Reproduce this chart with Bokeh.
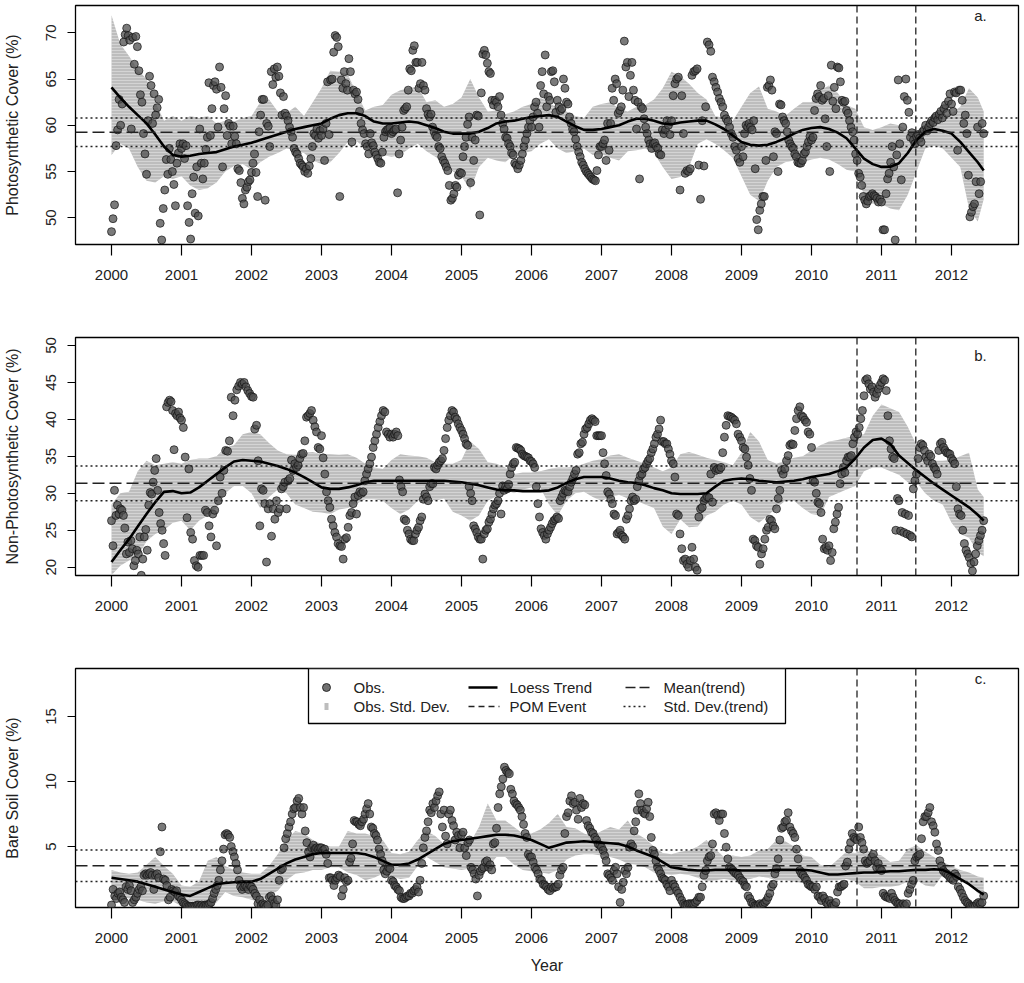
from bokeh.plotting import figure
from bokeh.layouts import column
from bokeh.models import Range1d, FixedTicker, Span
from bokeh.core.properties import value
from bokeh.embed import file_html
from bokeh.resources import INLINE

FONT = "Liberation Sans"
YEARS = list(range(2000, 2013))
LAST_DATE = 2012.46
POM_EVENTS = [2010.65, 2011.49]
BAND_T = [2000 + i / 8 for i in range(100)] + [LAST_DATE]

# ---------------- panel a : photosynthetic cover ----------------
PV_OBS = [
    [48.5, 49.9, 51.4, 57.8, 59.5, 62.8, 60.0, 62.3, 69.0, 69.8, 70.5, 69.7, 69.2, 59.6, 69.5, 66.6, 69.6, 68.5, 65.9, 63.3, 62.5, 59.1, 56.9, 54.7, 60.5, 65.3, 64.3, 60.2, 63.4, 61.1, 61.9, 62.8, 49.4, 47.6, 51.0, 53.0, 56.3, 54.7, 57.5, 56.3, 55.0, 53.6, 51.3, 55.9, 57.0, 58.0],
    [57.5, 58.0, 56.4, 57.8, 51.3, 49.5, 47.7, 52.6, 54.4, 50.5, 55.5, 50.2, 59.6, 55.9, 54.2, 55.9, 57.4, 58.7, 64.6, 58.9, 61.8, 64.3, 64.7, 63.9, 59.8, 66.3, 64.1, 55.5, 61.8, 63.2, 58.9, 60.2, 59.9, 58.0, 59.9, 58.8, 58.0, 55.3, 55.1, 53.8, 52.1, 51.5, 53.0, 53.3, 53.9, 54.1],
    [54.9, 55.9, 56.9, 54.9, 52.3, 59.3, 61.1, 62.8, 62.8, 51.9, 60.2, 59.9, 57.7, 65.8, 64.4, 66.1, 65.2, 66.3, 65.3, 63.5, 61.1, 63.1, 61.3, 61.0, 60.5, 59.8, 59.3, 58.7, 57.5, 57.1, 56.9, 56.4, 55.9, 55.7, 55.5, 55.0, 55.3, 54.8, 55.6, 56.4, 57.7, 59.1, 58.9, 59.6, 58.6, 59.4],
    [58.9, 59.6, 56.2, 60.2, 64.7, 59.0, 64.9, 65.0, 67.9, 69.7, 69.5, 68.5, 52.3, 64.9, 64.0, 65.8, 64.5, 63.8, 67.2, 65.8, 58.2, 63.8, 63.4, 63.6, 62.8, 61.5, 60.2, 59.5, 59.1, 58.0, 57.7, 56.9, 59.1, 58.1, 57.8, 57.1, 56.8, 56.4, 56.0, 55.9, 57.1, 58.7, 59.3, 59.5, 59.6, 59.7],
    [59.1, 59.3, 59.5, 59.6, 52.7, 56.9, 58.4, 59.8, 61.6, 61.8, 62.0, 63.8, 66.1, 65.9, 68.1, 68.6, 66.8, 66.8, 64.0, 64.5, 66.8, 64.3, 63.8, 61.8, 61.2, 60.9, 61.2, 59.8, 59.3, 58.9, 58.7, 57.7, 57.5, 56.6, 56.2, 55.9, 55.5, 55.1, 53.5, 51.9, 52.1, 52.6, 53.5, 53.3, 54.6, 54.9],
    [54.8, 56.6, 57.7, 58.7, 60.1, 60.9, 53.8, 58.7, 56.2, 58.4, 61.1, 61.0, 50.3, 63.5, 67.7, 68.1, 67.6, 66.7, 65.8, 65.6, 62.7, 62.2, 62.7, 62.5, 62.0, 63.1, 61.1, 60.2, 59.6, 58.7, 58.6, 58.0, 57.7, 57.0, 56.8, 55.9, 55.7, 55.3, 55.7, 56.2, 56.9, 57.7, 58.4, 59.1, 59.8, 60.5],
    [59.8, 60.9, 62.0, 62.5, 61.3, 59.8, 64.3, 65.8, 63.4, 67.6, 62.0, 63.1, 62.7, 65.8, 65.9, 64.7, 61.4, 62.7, 62.0, 61.6, 61.8, 65.0, 64.0, 62.5, 62.3, 60.9, 60.2, 59.6, 59.3, 58.5, 57.7, 57.1, 56.6, 56.0, 55.7, 55.3, 55.0, 54.8, 54.6, 54.4, 54.2, 54.1, 54.0, 55.1, 56.8, 57.7],
    [57.7, 58.0, 58.4, 56.2, 60.2, 57.3, 60.2, 64.0, 62.7, 65.0, 64.5, 61.3, 61.6, 62.0, 63.8, 69.1, 66.3, 66.8, 63.1, 65.4, 66.8, 63.8, 62.7, 59.6, 62.5, 54.2, 62.0, 61.8, 60.7, 59.8, 59.1, 58.4, 58.0, 57.5, 58.0, 58.1, 57.7, 57.5, 56.9, 56.8, 59.5, 59.1, 59.5, 60.5, 60.0, 59.0],
    [60.5, 63.2, 64.5, 65.0, 65.2, 53.0, 63.2, 59.1, 54.8, 55.1, 55.0, 55.3, 65.4, 65.8, 65.9, 66.1, 55.7, 52.0, 60.5, 55.6, 62.0, 69.0, 68.7, 68.0, 65.2, 64.7, 64.1, 63.6, 62.9, 62.5, 62.0, 61.1, 60.7, 60.4, 59.8, 59.1, 58.7, 57.7, 57.3, 56.4, 56.0],
    [57.7, 56.6, 59.1, 60.0, 59.8, 60.2, 59.8, 59.5, 60.5, 55.3, 49.8, 48.7, 50.8, 51.5, 52.3, 52.3, 56.2, 64.1, 64.3, 64.9, 63.8, 56.6, 59.3, 59.1, 55.0, 62.3, 62.2, 60.9, 60.5, 60.2, 59.3, 58.4, 58.0, 57.7, 57.5, 56.9, 56.6, 56.0, 55.9, 55.9, 56.2, 56.9, 57.1, 57.7, 58.2, 58.8],
    [58.4, 58.7, 61.6, 62.9, 63.4, 63.1, 64.3, 62.7, 62.9, 60.7, 57.7, 63.2, 55.0, 66.5, 62.6, 64.1, 61.8, 66.3, 66.2, 64.7, 62.7, 62.5, 62.6, 61.6, 61.3, 60.5, 59.8, 59.3, 58.4, 56.9, 56.2, 54.8, 54.4, 53.5, 52.3, 51.9, 51.5, 51.8, 52.3, 52.4, 52.6, 52.4, 52.3, 52.1, 51.7, 52.0],
    [51.7, 48.7, 48.7, 52.6, 54.2, 54.8, 56.0, 57.7, 55.5, 47.6, 56.8, 64.9, 58.0, 54.1, 59.8, 63.1, 65.0, 62.7, 61.4, 58.7, 59.2, 58.4, 58.0, 58.8, 59.0, 58.6, 58.2, 59.3, 59.5, 60.0, 59.4, 59.8, 60.2, 60.5, 60.3, 60.8, 61.0, 60.6, 61.2, 61.5, 60.8, 61.8, 62.2, 61.3, 62.6, 63.4],
    [62.3, 61.5, 63.6, 63.5, 57.3, 63.8, 63.8, 62.7, 60.2, 61.1, 59.1, 54.6, 50.1, 50.6, 51.2, 51.5, 53.9, 59.8, 52.6, 53.9, 60.2, 59.1],
]
PV_BAND_HI = [
    71.9, 68.8, 67.5, 66.0, 65.0, 62.5, 60.5, 61.0,
    60.5, 61.0, 60.8, 61.0, 60.2, 60.5, 60.4, 60.8,
    61.0, 62.5, 62.8, 61.5, 61.3, 62.0, 61.0, 62.5,
    64.0, 65.9, 65.8, 65.5, 63.5, 61.6, 62.0, 62.2,
    63.3, 63.8, 64.0, 64.2, 62.5, 62.7, 62.0, 62.3,
    63.0, 65.0, 63.0, 61.5, 61.6, 61.2, 61.5, 62.0,
    62.3, 63.0, 62.5, 61.8, 61.5, 61.0, 60.8, 62.0,
    62.3, 62.5, 61.8, 61.5, 62.0, 62.2, 62.8, 64.0,
    65.8, 65.3, 64.5, 63.5, 62.8, 61.0, 60.8, 60.5,
    62.0, 63.5, 64.2, 61.8, 61.5, 61.0, 61.8, 62.5,
    62.5, 63.8, 64.3, 63.5, 62.2, 61.8, 59.8, 59.5,
    59.8, 60.2, 60.0, 59.5, 59.0, 59.6, 60.0, 61.0,
    61.3, 62.0, 64.0, 63.0, 61.5,
]
PV_BAND_LO = [
    56.8, 58.0, 57.5, 55.5, 54.0, 53.8, 54.5, 54.2,
    54.5, 53.5, 53.0, 53.2, 53.8, 55.0, 55.6, 55.8,
    55.2, 56.0, 56.6, 57.0, 57.5, 57.3, 57.0, 56.2,
    55.8, 56.0, 57.0, 58.2, 58.3, 57.5, 56.6, 56.8,
    56.6, 56.8, 57.5, 58.0, 57.2, 56.6, 56.0, 55.0,
    54.5, 53.0, 55.5, 56.5, 56.2, 56.0, 56.8, 57.0,
    57.2, 58.0, 58.5, 57.5, 57.0, 57.2, 57.5, 56.8,
    56.9, 56.5, 56.2, 57.2, 57.3, 57.5, 57.0, 55.5,
    54.2, 54.4, 55.5, 58.0, 58.5, 58.0, 57.3, 56.5,
    54.5, 52.5, 51.8, 54.0, 55.5, 56.0, 56.2, 56.0,
    56.3, 56.5, 56.3, 55.8, 55.2, 55.0, 52.5, 51.5,
    51.5, 51.0, 50.8, 52.5, 55.0, 57.5, 57.8, 57.5,
    56.5, 55.5, 51.0, 49.6, 52.0,
]
PV_TREND = [
    64.1, 63.0, 62.0, 61.1, 60.2, 59.0, 57.7, 56.8,
    56.6, 56.7, 56.9, 57.0, 57.1, 57.4, 57.7, 57.9,
    58.1, 58.4, 58.7, 59.0, 59.3, 59.6, 59.8, 60.0,
    60.2, 60.7, 61.1, 61.3, 61.3, 61.0, 60.4, 60.2,
    60.2, 60.3, 60.4, 60.3, 60.0, 59.7, 59.3, 59.1,
    59.1, 59.1, 59.3, 59.7, 60.2, 60.4, 60.5, 60.7,
    60.9, 61.0, 61.1, 60.9, 60.4, 59.9, 59.5, 59.5,
    59.6, 59.8, 60.0, 60.4, 60.7, 60.7, 60.5, 60.2,
    60.1, 60.3, 60.4, 60.5, 60.5, 60.1, 59.6, 58.9,
    58.2, 57.9, 57.8, 57.9, 58.2, 58.6, 59.1, 59.5,
    59.7, 59.8, 59.6, 59.2, 58.6, 57.5, 56.4, 55.8,
    55.5, 55.5, 55.9, 57.0, 58.4, 59.3, 59.6, 59.4,
    59.1, 58.2, 57.1, 56.0, 55.1,
]
PV_MEAN, PV_SD = 59.25, 1.55

# ---------------- panel b : non-photosynthetic cover ----------------
NPV_OBS = [
    [26.3, 22.9, 30.4, 27.0, 28.4, 27.2, 27.9, 27.7, 27.0, 25.3, 21.8, 23.4, 22.0, 23.6, 22.5, 20.2, 20.9, 22.3, 21.8, 24.1, 18.9, 21.1, 24.1, 25.1, 22.3, 28.4, 30.1, 29.9, 31.5, 33.1, 34.7, 30.4, 27.4, 25.9, 25.0, 23.2, 21.6, 41.7, 42.3, 42.6, 42.4, 41.2, 35.9, 40.8, 40.5, 41.0, 40.2],
    [39.9, 38.9, 34.9, 26.7, 33.3, 24.7, 23.8, 20.9, 20.2, 20.0, 21.6, 21.6, 21.6, 27.7, 27.4, 25.6, 24.1, 27.2, 27.7, 22.9, 29.0, 32.2, 30.0, 33.1, 35.8, 35.7, 37.1, 43.0, 40.5, 42.6, 44.0, 44.5, 45.0, 44.8, 45.0, 44.4, 43.9, 43.5],
    [43.1, 43.0, 38.7, 39.2, 34.4, 25.6, 30.6, 30.4, 28.6, 20.7, 27.9, 28.6, 24.2, 27.9, 26.5, 29.0, 27.4, 27.9, 30.6, 30.9, 31.5, 27.9, 31.7, 32.0, 34.5, 33.1, 34.0, 33.5, 33.8, 34.7, 35.3, 35.4, 37.1, 40.3, 40.5, 40.8, 41.2, 39.9, 39.0, 38.3, 36.2, 36.0],
    [37.8, 34.8, 32.6, 30.2, 29.0, 28.1, 26.5, 25.6, 24.7, 24.1, 23.2, 22.9, 22.8, 21.1, 23.8, 24.0, 25.4, 27.0, 27.4, 28.6, 29.5, 27.2, 29.7, 30.2, 30.0, 30.2, 31.7, 32.6, 33.3, 34.0, 34.9, 36.2, 37.1, 38.0, 38.9, 39.7, 40.5, 41.2, 41.0, 38.3, 38.0, 37.6],
    [38.0, 37.6, 38.0, 38.3, 37.8, 31.8, 30.9, 30.2, 26.5, 26.3, 25.0, 24.5, 23.8, 23.6, 23.6, 24.5, 25.0, 25.4, 26.3, 26.8, 29.2, 29.9, 29.5, 29.0, 30.9, 31.3, 31.3, 33.5, 33.3, 33.8, 34.2, 34.4, 34.7, 35.8, 37.4, 38.9, 39.9, 40.5, 41.2, 41.0, 40.3, 40.0, 39.4, 38.9],
    [38.5, 38.0, 37.4, 36.7, 36.5, 30.9, 30.0, 29.0, 25.6, 25.2, 24.7, 24.1, 23.8, 23.8, 21.1, 24.5, 25.0, 25.2, 26.1, 26.5, 27.2, 27.9, 28.4, 28.6, 29.0, 30.0, 27.2, 31.0, 30.4, 30.9, 30.6, 31.2, 32.6, 33.5, 34.0, 34.2, 36.2, 36.1, 36.0, 35.8, 35.3, 35.1, 35.0, 34.9, 34.8, 34.4],
    [34.3, 34.0, 33.5, 30.9, 28.6, 26.8, 25.2, 24.7, 24.3, 23.8, 24.5, 25.0, 25.4, 25.9, 26.3, 26.5, 26.8, 26.6, 29.0, 29.5, 30.0, 30.4, 30.3, 30.2, 30.9, 31.5, 32.0, 32.6, 33.1, 35.3, 35.5, 36.7, 36.9, 38.0, 38.7, 38.9, 39.4, 39.9, 40.1, 39.9, 39.7, 37.8, 37.8, 37.8],
    [37.8, 35.5, 34.0, 32.4, 30.2, 29.9, 29.2, 28.6, 27.2, 27.0, 24.5, 24.7, 25.0, 24.3, 24.1, 23.8, 26.5, 27.0, 27.9, 29.0, 29.5, 29.0, 29.2, 30.9, 31.7, 32.4, 32.6, 33.3, 33.5, 34.0, 34.4, 34.7, 35.5, 36.0, 36.7, 37.6, 38.0, 38.7, 39.9, 37.0, 37.0, 36.7, 36.7, 36.0, 35.3],
    [34.4, 34.0, 32.2, 27.2, 27.0, 24.5, 22.5, 20.9, 21.1, 20.4, 20.0, 20.9, 22.7, 21.1, 20.0, 19.6, 26.8, 27.9, 28.1, 29.0, 29.3, 29.5, 29.4, 32.6, 28.8, 33.5, 33.1, 33.3, 33.2, 33.5, 35.5, 37.6, 39.2, 40.5, 40.4, 40.3, 40.1, 39.9, 39.4, 38.0, 37.6],
    [37.1, 36.2, 36.0, 34.9, 33.8, 32.0, 30.4, 23.8, 23.6, 22.9, 22.7, 20.4, 21.8, 22.5, 23.8, 25.0, 25.4, 26.5, 26.3, 25.6, 25.2, 27.9, 29.3, 30.4, 33.1, 32.6, 33.3, 34.4, 35.1, 36.5, 36.7, 36.6, 38.5, 40.1, 41.2, 41.7, 40.5, 40.3, 39.9, 39.6, 38.3, 38.0],
    [36.2, 31.7, 31.5, 30.0, 28.8, 28.6, 27.4, 23.8, 22.5, 22.7, 22.3, 22.9, 20.9, 22.0, 25.2, 26.1, 27.2, 28.1, 31.3, 32.6, 33.5, 32.8, 34.4, 34.9, 34.9, 35.1, 36.7, 37.6, 38.3, 38.0, 38.9, 40.1, 41.2, 43.2, 45.3, 45.5, 44.8, 44.1, 44.4, 43.7, 43.0, 43.5, 44.1, 44.6],
    [45.0, 45.5, 45.3, 43.9, 40.5, 37.1, 36.0, 34.9, 34.7, 25.0, 29.3, 29.0, 24.9, 27.4, 24.7, 27.2, 24.5, 27.0, 24.3, 24.1, 30.6, 31.7, 32.6, 34.7, 36.2, 36.7, 36.5, 35.8, 34.9, 34.4, 35.3, 35.0, 34.0, 33.5, 33.2, 32.6, 35.8, 36.7, 36.9, 36.2, 35.8, 35.5, 35.4, 35.3],
    [34.7, 34.4, 34.0, 30.9, 27.9, 27.2, 27.0, 25.0, 23.2, 22.3, 21.8, 21.3, 20.5, 19.5, 20.7, 21.8, 22.9, 23.6, 24.3, 25.0, 26.3],
]
NPV_BAND_HI = [
    28.5, 30.0, 30.2, 33.0, 34.4, 33.8, 34.0, 34.2,
    34.0, 34.5, 34.7, 34.7, 35.0, 36.2, 36.5, 38.0,
    38.3, 38.0, 36.8, 35.8, 35.3, 35.2, 35.5, 35.6,
    35.3, 35.3, 35.2, 35.3, 34.8, 34.0, 33.5, 33.3,
    34.5, 35.3, 35.1, 35.0, 34.8, 34.2, 34.0, 34.0,
    34.5, 37.0, 36.0, 34.2, 34.0, 33.5, 32.6, 32.8,
    32.8, 33.0, 33.3, 33.5, 33.5, 33.6, 34.0, 34.4,
    34.6, 35.1, 35.3, 34.8, 34.4, 34.0, 33.5, 33.0,
    33.5, 35.3, 35.6, 35.2, 34.8, 34.5, 34.2, 33.8,
    35.5, 38.3, 37.0, 34.5, 34.0, 34.4, 34.8, 35.0,
    35.8, 36.5, 37.0, 37.2, 37.5, 37.8, 38.0, 40.5,
    42.0, 41.5, 41.0, 39.0, 36.5, 35.0, 34.4, 34.4,
    34.5, 35.0, 35.5, 30.5, 29.5,
]
NPV_BAND_LO = [
    18.9, 20.2, 20.9, 21.5, 23.5, 24.5, 25.0, 26.0,
    26.3, 25.0, 26.3, 27.0, 28.0, 30.0, 31.0, 31.0,
    30.0, 28.0, 29.5, 30.5, 30.0, 28.5, 28.0, 27.5,
    27.4, 27.2, 27.8, 28.0, 28.6, 29.2, 29.2, 29.0,
    28.0, 27.2, 27.8, 29.0, 29.5, 29.0, 29.3, 27.5,
    27.0, 26.3, 27.0, 29.0, 29.6, 30.5, 30.0, 30.5,
    30.8, 30.8, 28.5, 27.0, 29.0, 30.0, 30.2, 29.5,
    29.0, 29.5, 29.8, 29.3, 29.0, 28.5, 28.0, 25.5,
    24.5, 26.5, 25.4, 25.5, 27.0, 27.5, 28.5, 29.0,
    28.5, 26.8, 26.0, 27.0, 28.0, 29.0, 29.0, 28.0,
    27.2, 27.0, 29.5, 30.0, 30.5, 31.0, 33.0, 33.5,
    33.5, 33.0, 32.5, 31.5, 31.5, 30.0, 29.0, 28.5,
    26.0, 24.5, 24.0, 22.0, 21.5,
]
NPV_TREND = [
    20.7, 22.3, 23.8, 25.5, 27.2, 28.8, 30.2, 30.3,
    30.0, 30.1, 30.8, 31.7, 32.6, 33.5, 34.3, 34.5,
    34.4, 34.3, 34.0, 33.7, 33.3, 32.8, 32.2, 31.5,
    30.8, 30.6, 30.6, 30.8, 31.1, 31.5, 31.7, 31.7,
    31.7, 31.7, 31.7, 31.7, 31.7, 31.7, 31.7, 31.6,
    31.5, 31.3, 31.1, 30.8, 30.5, 30.4, 30.4, 30.3,
    30.3, 30.3, 30.4, 30.8, 31.4, 31.9, 32.2, 32.2,
    32.2, 32.0, 31.7, 31.5, 31.4, 31.1, 30.7, 30.4,
    30.0, 29.9, 29.9, 29.9, 30.0, 30.9, 31.7, 31.9,
    32.0, 31.9, 31.7, 31.6, 31.5, 31.6, 31.7, 31.9,
    32.2, 32.4, 32.6, 33.0, 33.5, 34.7, 36.2, 37.2,
    37.4, 36.7, 35.1, 34.1, 33.1, 32.2, 31.3, 30.5,
    29.7, 28.9, 28.1, 27.1, 26.3,
]
NPV_MEAN, NPV_SD = 31.35, 2.35

# ---------------- panel c : bare soil cover ----------------
BS_OBS = [
    [0.5, 1.7, 1.2, 1.0, 1.4, 1.5, 1.1, 0.9, 0.7, 1.9, 1.7, 2.0, 1.6, 0.7, 0.9, 1.1, 1.4, 1.7, 1.9, 1.6, 2.8, 2.9, 2.8, 2.9, 3.0, 2.8, 1.7, 2.8, 2.9, 2.6, 4.6, 6.5, 2.5, 2.4, 2.0, 0.9, 1.1, 1.7, 1.6, 1.5, 1.6, 1.2, 1.1],
    [0.9, 0.7, 0.6, 0.5, 0.4, 0.4, 0.4, 0.4, 0.4, 0.4, 0.5, 0.5, 0.4, 0.5, 0.4, 0.5, 0.5, 0.5, 0.6, 0.7, 1.0, 1.4, 1.7, 2.0, 2.4, 3.2, 3.9, 4.8, 5.9, 6.0, 5.9, 5.7, 5.0, 4.6, 4.2, 3.7, 3.2, 2.4, 1.9, 1.7, 1.9, 2.0, 1.9, 1.7, 2.0],
    [1.9, 1.7, 1.4, 1.2, 0.6, 0.9, 0.5, 0.6, 0.5, 0.4, 0.5, 1.1, 1.2, 0.9, 0.6, 0.5, 0.9, 2.4, 3.2, 3.3, 4.9, 5.6, 6.0, 6.5, 6.9, 7.5, 7.9, 8.0, 8.5, 8.7, 8.0, 7.5, 8.0, 6.2, 5.3, 4.6, 4.2, 4.9, 5.1, 4.8, 4.9, 4.8, 4.9],
    [4.9, 4.7, 4.8, 4.4, 3.7, 2.6, 2.6, 2.4, 2.0, 2.4, 2.6, 2.8, 2.7, 1.2, 1.7, 2.6, 2.3, 2.4, 3.8, 4.1, 5.2, 7.0, 6.9, 6.9, 6.7, 6.6, 6.9, 7.1, 7.5, 7.9, 8.3, 7.5, 6.5, 6.4, 6.0, 5.85, 5.5, 4.8, 4.4, 3.9, 3.2, 2.9, 3.1, 3.4, 3.3],
    [2.4, 2.3, 2.0, 1.9, 1.7, 1.6, 1.1, 1.0, 1.0, 1.1, 1.2, 1.2, 1.4, 1.4, 1.6, 1.7, 1.9, 1.5, 2.4, 3.7, 4.9, 5.7, 6.2, 6.9, 7.8, 7.6, 8.3, 8.0, 8.5, 8.9, 9.2, 7.5, 6.5, 7.8, 5.8, 5.2, 7.5, 7.8, 7.0, 6.6, 5.5, 6.1, 5.85, 4.9],
    [5.9, 6.1, 4.9, 4.3, 5.3, 5.5, 3.4, 3.2, 2.9, 2.5, 1.2, 2.8, 3.1, 3.3, 3.4, 3.8, 3.9, 3.4, 3.6, 3.2, 5.2, 5.3, 6.4, 8.0, 9.05, 9.6, 10.2, 11.1, 10.85, 10.7, 10.6, 9.4, 9.05, 8.5, 8.3, 8.2, 8.0, 7.8, 7.3, 6.7, 6.0, 5.7, 4.4, 4.2],
    [4.2, 3.8, 3.4, 3.2, 2.9, 2.5, 2.4, 2.1, 2.0, 1.9, 1.7, 1.6, 1.9, 1.8, 1.9, 1.9, 2.1, 2.8, 3.2, 3.4, 6.0, 7.3, 7.6, 8.5, 8.9, 8.3, 8.4, 7.8, 7.1, 8.7, 8.0, 8.3, 8.2, 7.0, 6.6, 6.4, 6.1, 6.0, 5.7, 5.5, 5.2, 5.1],
    [4.95, 4.7, 4.3, 3.9, 2.9, 2.8, 2.6, 2.4, 3.15, 3.4, 2.9, 1.9, 0.7, 1.7, 2.25, 3.15, 2.9, 3.4, 4.95, 5.2, 5.0, 6.2, 6.9, 7.8, 9.05, 8.3, 7.8, 7.6, 7.5, 7.9, 8.4, 7.3, 5.7, 4.7, 4.4, 3.9, 3.4, 3.15, 2.9, 2.6, 2.5, 2.4, 2.1, 1.9, 1.6],
    [2.4, 2.1, 1.9, 1.6, 1.4, 1.1, 0.85, 0.6, 0.5, 0.5, 0.6, 0.6, 0.6, 0.6, 0.7, 0.85, 1.1, 1.1, 1.9, 2.8, 3.15, 3.9, 4.2, 4.3, 5.2, 7.5, 7.6, 7.4, 7.0, 7.5, 7.5, 6.0, 4.95, 4.05, 3.4, 3.3, 3.15, 3.0, 2.9, 2.8, 2.6],
    [2.4, 2.3, 2.0, 1.9, 1.2, 1.0, 0.7, 0.6, 0.46, 0.46, 0.46, 0.6, 0.46, 0.6, 0.7, 0.85, 1.1, 1.4, 1.9, 2.1, 2.9, 3.3, 4.05, 5.5, 6.4, 6.5, 6.9, 7.0, 7.6, 6.5, 6.2, 6.0, 5.7, 4.8, 4.05, 3.15, 2.9, 2.8, 2.6, 2.4, 2.1, 2.0],
    [1.9, 1.9, 1.7, 1.9, 1.2, 1.1, 0.85, 1.2, 1.0, 0.7, 0.6, 0.85, 0.6, 0.46, 0.46, 0.7, 1.5, 1.9, 1.9, 2.0, 2.1, 3.5, 3.8, 4.8, 5.3, 6.0, 5.7, 5.6, 5.5, 6.5, 5.7, 5.3, 4.8, 3.9, 3.7, 3.8, 3.9, 4.2, 4.4, 3.9, 3.4, 3.7, 3.3],
    [3.15, 1.4, 1.2, 1.1, 1.1, 1.0, 1.4, 1.1, 0.85, 0.7, 0.6, 0.6, 0.46, 0.6, 0.46, 0.6, 1.4, 1.7, 2.1, 2.4, 3.9, 4.2, 4.3, 4.4, 5.6, 6.9, 7.3, 7.3, 7.6, 8.0, 6.9, 6.6, 6.1, 5.2, 4.7, 3.9, 3.5, 3.15, 3.0, 2.9, 2.8, 2.6],
    [2.5, 2.4, 2.9, 2.7, 1.9, 1.7, 1.4, 1.1, 0.85, 0.7, 0.6, 0.46, 0.4, 0.4, 0.4, 0.6, 0.7, 0.6, 0.7, 1.2],
]
BS_BAND_HI = [
    3.2, 3.0, 2.9, 3.0, 3.6, 4.2, 3.5, 2.9,
    2.0, 1.9, 2.3, 3.9, 4.2, 3.5, 3.2, 3.0,
    2.9, 2.9, 3.5, 4.4, 5.5, 6.2, 6.0, 5.5,
    5.2, 5.0, 5.0, 6.2, 6.0, 6.0, 5.8, 5.5,
    4.5, 4.4, 4.6, 5.5, 6.2, 5.8, 5.2, 5.8,
    5.5, 5.3, 6.5, 8.3, 7.0, 7.0, 6.5, 6.0,
    6.0, 6.3, 6.8, 7.5, 6.5, 6.4, 6.0, 5.8,
    6.2, 6.5, 6.3, 7.0, 6.0, 5.6, 5.0, 4.5,
    4.4, 4.6, 4.7, 5.0, 5.5, 4.8, 4.2, 4.3,
    4.2, 4.3, 4.7, 4.8, 5.5, 5.4, 5.0, 4.3,
    4.2, 3.6, 3.4, 4.0, 4.6, 4.5, 4.8, 4.5,
    4.3, 3.8, 3.9, 4.8, 5.1, 4.6, 4.2, 3.8,
    3.5, 3.2, 3.0, 2.7, 2.6,
]
BS_BAND_LO = [
    1.4, 1.2, 1.0, 0.9, 0.7, 0.6, 0.8, 0.8,
    0.4, 0.3, 0.4, 0.5, 0.7, 1.5, 1.2, 1.1,
    0.9, 0.7, 1.2, 1.6, 2.4, 2.9, 3.0, 3.2,
    3.2, 3.4, 3.4, 3.0, 2.8, 2.4, 2.6, 2.9,
    2.7, 2.5, 2.6, 3.5, 4.2, 3.8, 3.4, 3.3,
    3.2, 3.3, 3.2, 3.4, 4.2, 4.2, 3.6, 3.2,
    3.1, 3.0, 2.9, 3.2, 4.0, 4.3, 4.4, 4.4,
    4.3, 4.2, 4.0, 3.7, 3.6, 3.4, 3.0, 2.9,
    2.8, 2.9, 2.8, 2.6, 2.3, 2.4, 2.5, 2.4,
    2.4, 2.5, 2.7, 2.6, 2.4, 2.4, 2.3, 2.2,
    2.2, 2.3, 2.4, 2.4, 2.5, 2.3, 1.8, 1.8,
    1.9, 1.9, 2.0, 2.3, 2.4, 2.0, 1.9, 2.8,
    2.9, 2.4, 2.2, 1.4, 1.3,
]
BS_TREND = [
    2.6, 2.5, 2.4, 2.3, 2.1, 1.9, 1.7, 1.5,
    1.3, 1.2, 1.5, 1.8, 2.1, 2.2, 2.25, 2.3,
    2.3, 2.5, 2.9, 3.3, 3.7, 4.0, 4.2, 4.4,
    4.5, 4.5, 4.5, 4.5, 4.5, 4.4, 4.2, 3.9,
    3.6, 3.6, 3.7, 4.0, 4.4, 4.8, 5.2, 5.4,
    5.5, 5.6, 5.7, 5.8, 5.9, 5.9, 5.85, 5.7,
    5.5, 5.2, 4.9, 5.1, 5.3, 5.35, 5.4, 5.35,
    5.3, 5.25, 5.2, 5.0, 4.7, 4.45, 4.2, 3.8,
    3.4, 3.3, 3.2, 3.15, 3.15, 3.2, 3.2, 3.2,
    3.15, 3.15, 3.15, 3.15, 3.2, 3.2, 3.2, 3.2,
    3.15, 3.0, 2.85, 2.85, 2.9, 2.95, 3.0, 3.0,
    3.05, 3.1, 3.1, 3.15, 3.2, 3.2, 3.25, 3.2,
    2.9, 2.5, 2.1, 1.6, 1.3,
]
BS_MEAN, BS_SD = 3.52, 1.22

LEGEND_LABELS = ["Obs.", "Obs. Std. Dev.", "Loess Trend", "POM Event", "Mean(trend)", "Std. Dev.(trend)"]

# ---------------- layout constants ----------------
FRAME_W = 943
PX_PER_YEAR = 70.0
X0 = 2000 - 36 / PX_PER_YEAR
X1 = X0 + FRAME_W / PX_PER_YEAR
TXT = "#222222"
TAG_X = 905


def obs_times(chunks):
    t = []
    for i, ch in enumerate(chunks):
        y0 = 2000 + i
        n = len(ch)
        if i == len(chunks) - 1:
            t += [y0 + (LAST_DATE - y0) * k / (n - 1) for k in range(n)]
        else:
            t += [y0 + k / n for k in range(n)]
    return t


def panel(ylab, yr, yticks, obs, hi, lo, trend, mean, sd, tag, tag_dy, fh, top, bottom, xlab=None):
    p = figure(frame_width=FRAME_W, frame_height=fh,
               x_range=Range1d(X0, X1), y_range=Range1d(*yr),
               output_backend="svg", toolbar_location=None,
               min_border_left=75, min_border_right=2,
               min_border_top=top, min_border_bottom=bottom)
    p.extra_x_ranges = {"px": Range1d(0, FRAME_W)}
    p.extra_y_ranges = {"py": Range1d(0, fh)}
    p.xgrid.visible = False
    p.ygrid.visible = False
    p.outline_line_color = "black"
    p.outline_line_width = 1.3
    p.background_fill_color = "white"
    p.border_fill_color = "white"

    xa = p.xaxis[0]
    xa.ticker = FixedTicker(ticks=YEARS)
    xa.axis_line_color = None
    xa.major_tick_in = 0
    xa.major_tick_out = 11
    xa.major_tick_line_color = "black"
    xa.major_tick_line_width = 1.2
    xa.minor_tick_line_color = None
    xa.major_label_text_font = FONT
    xa.major_label_text_font_size = "15px"
    xa.major_label_text_color = TXT
    xa.major_label_standoff = 14
    if xlab:
        xa.axis_label = xlab
        xa.axis_label_text_font = FONT
        xa.axis_label_text_font_size = "16px"
        xa.axis_label_text_font_style = "normal"
        xa.axis_label_text_color = TXT
        xa.axis_label_standoff = 11

    ya = p.yaxis[0]
    ya.ticker = FixedTicker(ticks=yticks)
    ya.axis_line_color = None
    ya.major_tick_in = 0
    ya.major_tick_out = 8
    ya.major_tick_line_color = "black"
    ya.major_tick_line_width = 1.2
    ya.minor_tick_line_color = None
    ya.major_label_orientation = "vertical"
    ya.major_label_text_font = FONT
    ya.major_label_text_font_size = "15px"
    ya.major_label_text_color = TXT
    ya.major_label_standoff = 11
    ya.axis_label = ylab
    ya.axis_label_text_font = FONT
    ya.axis_label_text_font_size = "16px"
    ya.axis_label_text_font_style = "normal"
    ya.axis_label_text_color = TXT
    ya.axis_label_standoff = 23

    p.varea(x=BAND_T, y1=lo, y2=hi, fill_color="#bdbdbd",
            hatch_pattern="horizontal_line", hatch_color="white",
            hatch_alpha=0.35, hatch_scale=3, hatch_weight=1)
    flat = [v for ch in obs for v in ch]
    p.scatter(x=obs_times(obs), y=flat, size=8, fill_color="#4d4d4d", fill_alpha=0.75,
              line_color="#111111", line_alpha=0.85, line_width=0.8)
    p.line(x=BAND_T, y=trend, line_color="black", line_width=2.6)

    p.add_layout(Span(location=mean, dimension="width", line_color="#222222",
                      line_width=1.5, line_dash="12 5"))
    for s in (mean - sd, mean + sd):
        p.add_layout(Span(location=s, dimension="width", line_color="#222222",
                          line_width=1.5, line_dash="2 3"))
    for ev in POM_EVENTS:
        p.add_layout(Span(location=ev, dimension="height", line_color="#222222",
                          line_width=1.3, line_dash="7 4"))

    p.text(x=[TAG_X], y=[fh - tag_dy], text=[tag], x_range_name="px", y_range_name="py",
           text_font=value(FONT), text_font_size="15px", text_color=TXT,
           text_align="center", text_baseline="middle")
    return p


pa = panel("Photosynthetic Cover (%)", (47.11, 72.95), [50, 55, 60, 65, 70],
           PV_OBS, PV_BAND_HI, PV_BAND_LO, PV_TREND, PV_MEAN, PV_SD, "a.", 10, 239, 5, 45)
pb = panel("Non-Photosynthetic Cover (%)", (18.88, 51.08), [20, 25, 30, 35, 40, 45, 50],
           NPV_OBS, NPV_BAND_HI, NPV_BAND_LO, NPV_TREND, NPV_MEAN, NPV_SD, "b.", 18, 238, 48, 45)
pc = panel("Bare Soil Cover (%)", (0.31, 18.69), [5, 10, 15],
           BS_OBS, BS_BAND_HI, BS_BAND_LO, BS_TREND, BS_MEAN, BS_SD, "c.", 10, 239, 48, 68, xlab="Year")

# ---------------- legend (panel c, pixel coordinates in the frame) ----------------
FH = 239
r1, r2 = FH - 19, FH - 38
pc.quad(left=[233], right=[710], top=[FH], bottom=[FH - 55], fill_color="white",
        line_color="black", line_width=1.3, x_range_name="px", y_range_name="py")
pc.scatter(x=[251], y=[r1], size=8, fill_color="#4d4d4d", fill_alpha=0.8,
           line_color="#111111", line_width=0.8, x_range_name="px", y_range_name="py")
pc.rect(x=[251], y=[r2], width=4, height=7, width_units="screen", height_units="screen",
        fill_color="#bdbdbd", line_color=None, x_range_name="px", y_range_name="py")
pc.line(x=[393, 422], y=[r1, r1], line_color="black", line_width=2.6, x_range_name="px", y_range_name="py")
pc.line(x=[393, 424], y=[r2, r2], line_color="#222222", line_width=1.3, line_dash="6 4",
        x_range_name="px", y_range_name="py")
pc.line(x=[550, 575], y=[r1, r1], line_color="#222222", line_width=1.5, line_dash="10 4",
        x_range_name="px", y_range_name="py")
pc.line(x=[548, 573], y=[r2, r2], line_color="#222222", line_width=1.5, line_dash="2 3",
        x_range_name="px", y_range_name="py")
pc.text(x=[278, 278, 434, 434, 588, 588], y=[r1, r2, r1, r2, r1, r2], text=LEGEND_LABELS,
        x_range_name="px", y_range_name="py", text_font=value(FONT), text_font_size="15px",
        text_color=TXT, text_align="left", text_baseline="middle")

layout = column(pa, pb, pc, spacing=0)
open("out.html", "w").write(file_html(layout, INLINE))
